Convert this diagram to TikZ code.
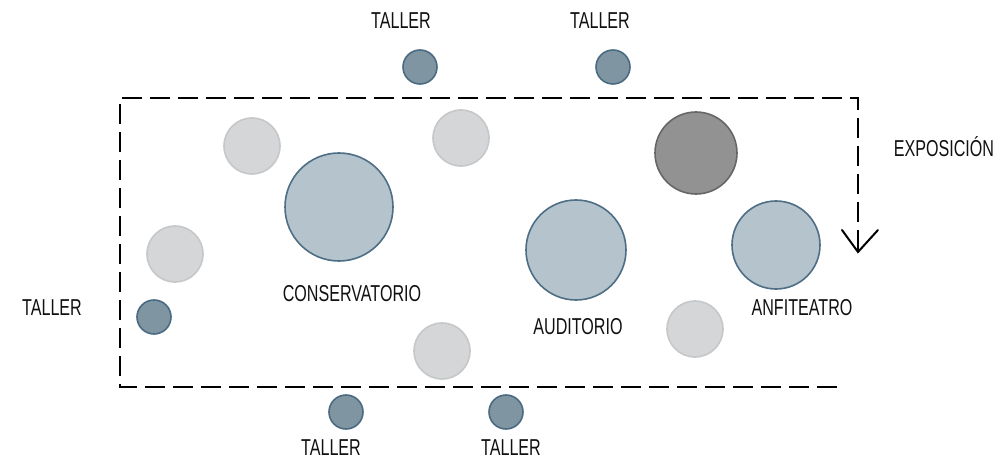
\documentclass[tikz,border=0pt]{standalone}
\usepackage{fontspec}
\setmainfont{Liberation Sans}[FakeStretch=0.70]
\usetikzlibrary{arrows.meta}
\definecolor{tallerfill}{HTML}{7F95A2}
\definecolor{tallerdraw}{HTML}{4B6B83}
\definecolor{bigfill}{HTML}{B5C3CC}
\definecolor{bigdraw}{HTML}{4E6E86}
\definecolor{lightfill}{HTML}{D5D6D8}
\definecolor{lightdraw}{HTML}{C5C7C9}
\definecolor{darkfill}{HTML}{929292}
\definecolor{darkdraw}{HTML}{666666}
\definecolor{txt}{HTML}{111111}
\begin{document}
\begin{tikzpicture}[x=1pt,y=-1pt,
  tallerc/.style={circle,inner sep=0pt,minimum size=34pt,fill=tallerfill,draw=tallerdraw,line width=1.6pt},
  lightc/.style={circle,inner sep=0pt,minimum size=56pt,fill=lightfill,draw=lightdraw,line width=1.6pt},
  bigc/.style={circle,inner sep=0pt,fill=bigfill,draw=bigdraw,line width=1.6pt},
  darkc/.style={circle,inner sep=0pt,fill=darkfill,draw=darkdraw,line width=1.6pt},
  lbl/.style={inner sep=0pt,text=txt,font=\fontsize{23}{27}\selectfont},
  route/.style={line width=2.4pt,dash pattern=on 20pt off 8pt},
  tipline/.style={line width=2pt,line cap=round,line join=miter}]
\useasboundingbox (0,0) rectangle (1002,468);
% circles
\node[tallerc] (t1) at (420,67) {};
\node[tallerc] (t2) at (613,67) {};
\node[tallerc] (t3) at (154,317) {};
\node[tallerc] (t4) at (346,412) {};
\node[tallerc] (t5) at (506,412) {};
\node[lightc] (l1) at (252,146) {};
\node[lightc] (l2) at (461,138) {};
\node[lightc] (l3) at (175,254) {};
\node[lightc] (l4) at (442,351) {};
\node[lightc] (l5) at (695,329) {};
\node[bigc,minimum size=108pt] (cons) at (339,207) {};
\node[bigc,minimum size=100pt] (aud) at (576,250) {};
\node[bigc,minimum size=88pt] (anf) at (776,245) {};
\node[darkc,minimum size=82pt] (dark) at (696,153) {};
% labels
\node[lbl] (lt1) at (401,21) {TALLER};
\node[lbl] (lt2) at (600,21) {TALLER};
\node[lbl] (lt3) at (52,308) {TALLER};
\node[lbl] (lt4) at (331,448) {TALLER};
\node[lbl] (lt5) at (511,448) {TALLER};
\node[lbl] (lcons) at (352,294) {CONSERVATORIO};
\node[lbl] (laud) at (578,327) {AUDITORIO};
\node[lbl] (lanf) at (802,308) {ANFITEATRO};
\node[lbl] (lexp) at (944,147) {EXPOSICIÓN};
% route
\coordinate (r0) at (837,387);
\coordinate (r1) at (120,387);
\coordinate (r2) at (120,98);
\coordinate (r3) at (858,98);
\coordinate (tip) at (858,252);
\draw[route] (r0) -- (r1) -- (r2) -- (r3) -- (tip);
\draw[tipline] ([shift={(-16,-22)}]tip) -- (tip) -- ([shift={(20,-22)}]tip);
\end{tikzpicture}
\end{document}
